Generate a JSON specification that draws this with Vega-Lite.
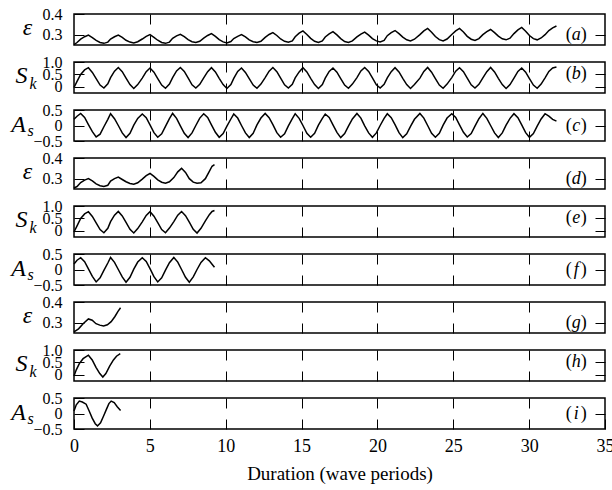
{
"$schema": "https://vega.github.io/schema/vega-lite/v6.json",
"padding": {"left": 9, "top": 5, "right": 0, "bottom": 0},
"background": "white",
"bounds": "flush",
"spacing": 17,
"config": {
  "font": "Liberation Serif",
  "style": {"guide-label": {"font": "Liberation Serif", "fill": "black"}, "guide-title": {"font": "Liberation Serif", "fill": "black"}},
  "view": {"stroke": "black", "strokeWidth": 1.5},
  "axis": {"domain": false, "grid": false, "tickColor": "black", "tickWidth": 1, "tickSize": -10, "labelFont": "Liberation Serif", "labelColor": "black", "labelOverlap": false, "titleFont": "Liberation Serif", "titleColor": "black", "titleFontWeight": "normal"},
  "axisX": {"labelFont": "Liberation Serif", "labelFontSize": 18, "labelPadding": 18, "labelFlush": false},
  "axisY": {"labelFont": "Liberation Serif", "labelFontSize": 16, "labelPadding": 22},
  "text": {"font": "Liberation Serif", "fontSize": 18, "color": "black", "baseline": "middle"}
},
"datasets": {
"a": [{"x":0,"v":0.252},{"x":0.2,"v":0.262},
{"x":0.44,"v":0.278},{"x":0.70,"v":0.290},{"x":0.95,"v":0.298},{"x":1.21,"v":0.286},{"x":1.46,"v":0.272},{"x":1.72,"v":0.262},{"x":1.97,"v":0.258},{"x":2.23,"v":0.264},
{"x":2.41,"v":0.279},{"x":2.67,"v":0.290},{"x":2.92,"v":0.298},{"x":3.18,"v":0.287},{"x":3.43,"v":0.273},{"x":3.69,"v":0.264},{"x":3.94,"v":0.260},{"x":4.20,"v":0.266},
{"x":4.50,"v":0.279},{"x":4.76,"v":0.292},{"x":5.01,"v":0.300},{"x":5.27,"v":0.287},{"x":5.52,"v":0.273},{"x":5.78,"v":0.262},{"x":6.03,"v":0.258},{"x":6.29,"v":0.264},
{"x":6.50,"v":0.282},{"x":6.76,"v":0.294},{"x":7.01,"v":0.302},{"x":7.27,"v":0.290},{"x":7.52,"v":0.276},{"x":7.78,"v":0.266},{"x":8.03,"v":0.262},{"x":8.29,"v":0.268},
{"x":8.55,"v":0.283},{"x":8.81,"v":0.296},{"x":9.06,"v":0.305},{"x":9.32,"v":0.292},{"x":9.57,"v":0.276},{"x":9.83,"v":0.265},{"x":10.08,"v":0.260},{"x":10.34,"v":0.267},
{"x":10.53,"v":0.281},{"x":10.79,"v":0.292},{"x":11.04,"v":0.300},{"x":11.30,"v":0.289},{"x":11.55,"v":0.275},{"x":11.81,"v":0.266},{"x":12.06,"v":0.262},{"x":12.32,"v":0.268},
{"x":12.60,"v":0.287},{"x":12.86,"v":0.301},{"x":13.11,"v":0.310},{"x":13.37,"v":0.296},{"x":13.62,"v":0.279},{"x":13.88,"v":0.268},{"x":14.13,"v":0.263},{"x":14.39,"v":0.270},
{"x":14.58,"v":0.290},{"x":14.84,"v":0.307},{"x":15.09,"v":0.318},{"x":15.35,"v":0.301},{"x":15.60,"v":0.282},{"x":15.86,"v":0.268},{"x":16.11,"v":0.262},{"x":16.37,"v":0.270},
{"x":16.56,"v":0.289},{"x":16.82,"v":0.304},{"x":17.07,"v":0.315},{"x":17.33,"v":0.299},{"x":17.58,"v":0.281},{"x":17.84,"v":0.267},{"x":18.09,"v":0.262},{"x":18.35,"v":0.270},
{"x":18.65,"v":0.289},{"x":18.91,"v":0.303},{"x":19.16,"v":0.312},{"x":19.42,"v":0.298},{"x":19.67,"v":0.281},{"x":19.93,"v":0.270},{"x":20.18,"v":0.265},{"x":20.44,"v":0.272},
{"x":20.65,"v":0.295},{"x":20.91,"v":0.310},{"x":21.16,"v":0.320},{"x":21.42,"v":0.305},{"x":21.67,"v":0.288},{"x":21.93,"v":0.275},{"x":22.18,"v":0.270},{"x":22.44,"v":0.278},
{"x":22.80,"v":0.300},{"x":23.06,"v":0.318},{"x":23.31,"v":0.330},{"x":23.57,"v":0.312},{"x":23.82,"v":0.291},{"x":24.08,"v":0.276},{"x":24.33,"v":0.270},{"x":24.59,"v":0.279},
{"x":24.90,"v":0.301},{"x":25.16,"v":0.318},{"x":25.41,"v":0.330},{"x":25.67,"v":0.313},{"x":25.92,"v":0.292},{"x":26.18,"v":0.278},{"x":26.43,"v":0.272},{"x":26.69,"v":0.281},
{"x":26.95,"v":0.300},{"x":27.21,"v":0.315},{"x":27.46,"v":0.325},{"x":27.72,"v":0.310},{"x":27.97,"v":0.293},{"x":28.23,"v":0.280},{"x":28.48,"v":0.275},{"x":28.74,"v":0.283},
{"x":29.00,"v":0.305},{"x":29.26,"v":0.323},{"x":29.51,"v":0.335},{"x":29.77,"v":0.317},{"x":30.02,"v":0.296},{"x":30.28,"v":0.281},{"x":30.53,"v":0.275},{"x":30.79,"v":0.284},
{"x":31.05,"v":0.300},{"x":31.30,"v":0.320},{"x":31.55,"v":0.333},{"x":31.80,"v":0.342}],
"b": [{"x":0,"v":-0.03},{"x":0.2,"v":0.22},
{"x":0.44,"v":0.50},{"x":0.70,"v":0.68},{"x":0.95,"v":0.77},{"x":1.21,"v":0.58},{"x":1.46,"v":0.33},{"x":1.72,"v":0.07},{"x":1.97,"v":-0.05},{"x":2.23,"v":0.12},
{"x":2.41,"v":0.37},{"x":2.67,"v":0.63},{"x":2.92,"v":0.78},{"x":3.18,"v":0.61},{"x":3.43,"v":0.35},{"x":3.69,"v":0.09},{"x":3.94,"v":-0.07},{"x":4.20,"v":0.09},
{"x":4.50,"v":0.35},{"x":4.76,"v":0.61},{"x":5.01,"v":0.76},{"x":5.27,"v":0.59},{"x":5.52,"v":0.33},{"x":5.78,"v":0.07},{"x":6.03,"v":-0.06},{"x":6.29,"v":0.11},
{"x":6.50,"v":0.37},{"x":6.76,"v":0.64},{"x":7.01,"v":0.78},{"x":7.27,"v":0.62},{"x":7.52,"v":0.36},{"x":7.78,"v":0.08},{"x":8.03,"v":-0.05},{"x":8.29,"v":0.10},
{"x":8.55,"v":0.36},{"x":8.81,"v":0.61},{"x":9.06,"v":0.77},{"x":9.32,"v":0.60},{"x":9.57,"v":0.34},{"x":9.83,"v":0.09},{"x":10.08,"v":-0.07},{"x":10.34,"v":0.09},
{"x":10.53,"v":0.34},{"x":10.79,"v":0.62},{"x":11.04,"v":0.76},{"x":11.30,"v":0.58},{"x":11.55,"v":0.33},{"x":11.81,"v":0.07},{"x":12.06,"v":-0.06},{"x":12.32,"v":0.11},
{"x":12.60,"v":0.37},{"x":12.86,"v":0.63},{"x":13.11,"v":0.78},{"x":13.37,"v":0.61},{"x":13.62,"v":0.35},{"x":13.88,"v":0.08},{"x":14.13,"v":-0.05},{"x":14.39,"v":0.10},
{"x":14.58,"v":0.36},{"x":14.84,"v":0.60},{"x":15.09,"v":0.77},{"x":15.35,"v":0.60},{"x":15.60,"v":0.34},{"x":15.86,"v":0.09},{"x":16.11,"v":-0.07},{"x":16.37,"v":0.09},
{"x":16.56,"v":0.35},{"x":16.82,"v":0.62},{"x":17.07,"v":0.76},{"x":17.33,"v":0.59},{"x":17.58,"v":0.33},{"x":17.84,"v":0.07},{"x":18.09,"v":-0.06},{"x":18.35,"v":0.11},
{"x":18.65,"v":0.37},{"x":18.91,"v":0.64},{"x":19.16,"v":0.78},{"x":19.42,"v":0.62},{"x":19.67,"v":0.36},{"x":19.93,"v":0.08},{"x":20.18,"v":-0.05},{"x":20.44,"v":0.10},
{"x":20.65,"v":0.36},{"x":20.91,"v":0.61},{"x":21.16,"v":0.77},{"x":21.42,"v":0.60},{"x":21.67,"v":0.34},{"x":21.93,"v":0.09},{"x":22.18,"v":-0.07},{"x":22.44,"v":0.09},
{"x":22.80,"v":0.35},{"x":23.06,"v":0.62},{"x":23.31,"v":0.78},{"x":23.57,"v":0.59},{"x":23.82,"v":0.33},{"x":24.08,"v":0.07},{"x":24.33,"v":-0.06},{"x":24.59,"v":0.11},
{"x":24.90,"v":0.37},{"x":25.16,"v":0.63},{"x":25.41,"v":0.77},{"x":25.67,"v":0.61},{"x":25.92,"v":0.35},{"x":26.18,"v":0.08},{"x":26.43,"v":-0.05},{"x":26.69,"v":0.10},
{"x":26.95,"v":0.36},{"x":27.21,"v":0.61},{"x":27.46,"v":0.78},{"x":27.72,"v":0.60},{"x":27.97,"v":0.34},{"x":28.23,"v":0.09},{"x":28.48,"v":-0.07},{"x":28.74,"v":0.09},
{"x":29.00,"v":0.35},{"x":29.26,"v":0.62},{"x":29.51,"v":0.76},{"x":29.77,"v":0.59},{"x":30.02,"v":0.33},{"x":30.28,"v":0.07},{"x":30.53,"v":-0.06},{"x":30.79,"v":0.11},
{"x":31.05,"v":0.36},{"x":31.30,"v":0.62},{"x":31.55,"v":0.76},{"x":31.80,"v":0.80}],
"c": [{"x":0,"v":0.20},{"x":0.2,"v":0.30},
{"x":0.44,"v":0.39},{"x":0.70,"v":0.26},{"x":0.95,"v":0.03},{"x":1.21,"v":-0.20},{"x":1.46,"v":-0.37},{"x":1.72,"v":-0.28},{"x":1.97,"v":-0.04},{"x":2.23,"v":0.20},
{"x":2.41,"v":0.38},{"x":2.67,"v":0.22},{"x":2.92,"v":0.00},{"x":3.18,"v":-0.24},{"x":3.43,"v":-0.39},{"x":3.69,"v":-0.25},{"x":3.94,"v":0.01},{"x":4.20,"v":0.23},
{"x":4.50,"v":0.37},{"x":4.76,"v":0.25},{"x":5.01,"v":0.02},{"x":5.27,"v":-0.23},{"x":5.52,"v":-0.38},{"x":5.78,"v":-0.27},{"x":6.03,"v":-0.03},{"x":6.29,"v":0.22},
{"x":6.50,"v":0.39},{"x":6.76,"v":0.23},{"x":7.01,"v":-0.01},{"x":7.27,"v":-0.25},{"x":7.52,"v":-0.39},{"x":7.78,"v":-0.24},{"x":8.03,"v":0.00},{"x":8.29,"v":0.24},
{"x":8.55,"v":0.38},{"x":8.81,"v":0.26},{"x":9.06,"v":0.02},{"x":9.32,"v":-0.22},{"x":9.57,"v":-0.38},{"x":9.83,"v":-0.26},{"x":10.08,"v":-0.02},{"x":10.34,"v":0.21},
{"x":10.53,"v":0.37},{"x":10.79,"v":0.24},{"x":11.04,"v":0.00},{"x":11.30,"v":-0.24},{"x":11.55,"v":-0.39},{"x":11.81,"v":-0.25},{"x":12.06,"v":0.02},{"x":12.32,"v":0.24},
{"x":12.60,"v":0.39},{"x":12.86,"v":0.25},{"x":13.11,"v":0.03},{"x":13.37,"v":-0.23},{"x":13.62,"v":-0.38},{"x":13.88,"v":-0.27},{"x":14.13,"v":-0.01},{"x":14.39,"v":0.22},
{"x":14.58,"v":0.38},{"x":14.84,"v":0.23},{"x":15.09,"v":0.00},{"x":15.35,"v":-0.25},{"x":15.60,"v":-0.38},{"x":15.86,"v":-0.25},{"x":16.11,"v":0.01},{"x":16.37,"v":0.23},
{"x":16.56,"v":0.37},{"x":16.82,"v":0.26},{"x":17.07,"v":0.02},{"x":17.33,"v":-0.22},{"x":17.58,"v":-0.39},{"x":17.84,"v":-0.26},{"x":18.09,"v":-0.02},{"x":18.35,"v":0.21},
{"x":18.65,"v":0.39},{"x":18.91,"v":0.24},{"x":19.16,"v":-0.01},{"x":19.42,"v":-0.24},{"x":19.67,"v":-0.38},{"x":19.93,"v":-0.24},{"x":20.18,"v":0.00},{"x":20.44,"v":0.23},
{"x":20.65,"v":0.38},{"x":20.91,"v":0.25},{"x":21.16,"v":0.03},{"x":21.42,"v":-0.23},{"x":21.67,"v":-0.39},{"x":21.93,"v":-0.27},{"x":22.18,"v":-0.03},{"x":22.44,"v":0.20},
{"x":22.80,"v":0.39},{"x":23.06,"v":0.24},{"x":23.31,"v":0.00},{"x":23.57,"v":-0.25},{"x":23.82,"v":-0.38},{"x":24.08,"v":-0.25},{"x":24.33,"v":0.01},{"x":24.59,"v":0.24},
{"x":24.90,"v":0.38},{"x":25.16,"v":0.26},{"x":25.41,"v":0.02},{"x":25.67,"v":-0.22},{"x":25.92,"v":-0.37},{"x":26.18,"v":-0.26},{"x":26.43,"v":-0.02},{"x":26.69,"v":0.22},
{"x":26.95,"v":0.39},{"x":27.21,"v":0.23},{"x":27.46,"v":0.00},{"x":27.72,"v":-0.24},{"x":27.97,"v":-0.39},{"x":28.23,"v":-0.24},{"x":28.48,"v":0.01},{"x":28.74,"v":0.23},
{"x":29.00,"v":0.38},{"x":29.26,"v":0.25},{"x":29.51,"v":0.02},{"x":29.77,"v":-0.23},{"x":30.02,"v":-0.38},{"x":30.28,"v":-0.26},{"x":30.53,"v":-0.02},{"x":30.79,"v":0.21},
{"x":31.05,"v":0.38},{"x":31.30,"v":0.30},{"x":31.55,"v":0.20},{"x":31.80,"v":0.14}],
"d": [{"x":0,"v":0.255},{"x":0.2,"v":0.262},
{"x":0.44,"v":0.281},{"x":0.70,"v":0.293},{"x":0.95,"v":0.300},{"x":1.21,"v":0.289},{"x":1.46,"v":0.275},{"x":1.72,"v":0.266},{"x":1.97,"v":0.262},{"x":2.23,"v":0.268},
{"x":2.41,"v":0.288},{"x":2.67,"v":0.300},{"x":2.92,"v":0.308},{"x":3.18,"v":0.296},{"x":3.43,"v":0.285},{"x":3.69,"v":0.277},{"x":3.94,"v":0.273},{"x":4.20,"v":0.280},
{"x":4.50,"v":0.298},{"x":4.76,"v":0.315},{"x":5.01,"v":0.325},{"x":5.27,"v":0.311},{"x":5.52,"v":0.294},{"x":5.78,"v":0.283},{"x":6.03,"v":0.278},{"x":6.29,"v":0.285},
{"x":6.58,"v":0.305},{"x":6.84,"v":0.333},{"x":7.09,"v":0.350},{"x":7.35,"v":0.330},{"x":7.60,"v":0.300},{"x":7.86,"v":0.283},{"x":8.11,"v":0.278},{"x":8.37,"v":0.280},
{"x":8.66,"v":0.300},{"x":8.92,"v":0.335},{"x":9.10,"v":0.360},{"x":9.26,"v":0.368}],
"e": [{"x":0,"v":-0.05},{"x":0.2,"v":0.20},
{"x":0.44,"v":0.50},{"x":0.70,"v":0.68},{"x":0.95,"v":0.77},{"x":1.21,"v":0.58},{"x":1.46,"v":0.32},{"x":1.72,"v":0.05},{"x":1.97,"v":-0.08},{"x":2.23,"v":0.10},
{"x":2.41,"v":0.37},{"x":2.67,"v":0.63},{"x":2.92,"v":0.78},{"x":3.18,"v":0.60},{"x":3.43,"v":0.34},{"x":3.69,"v":0.06},{"x":3.94,"v":-0.09},{"x":4.20,"v":0.09},
{"x":4.50,"v":0.36},{"x":4.76,"v":0.62},{"x":5.01,"v":0.77},{"x":5.27,"v":0.59},{"x":5.52,"v":0.33},{"x":5.78,"v":0.05},{"x":6.03,"v":-0.08},{"x":6.29,"v":0.11},
{"x":6.58,"v":0.37},{"x":6.84,"v":0.63},{"x":7.09,"v":0.78},{"x":7.35,"v":0.61},{"x":7.60,"v":0.35},{"x":7.86,"v":0.06},{"x":8.11,"v":-0.09},{"x":8.37,"v":0.10},
{"x":8.66,"v":0.40},{"x":8.92,"v":0.65},{"x":9.10,"v":0.78},{"x":9.26,"v":0.82}],
"f": [{"x":0,"v":0.18},{"x":0.2,"v":0.30},
{"x":0.44,"v":0.38},{"x":0.70,"v":0.25},{"x":0.95,"v":0.02},{"x":1.21,"v":-0.22},{"x":1.46,"v":-0.40},{"x":1.72,"v":-0.27},{"x":1.97,"v":-0.03},{"x":2.23,"v":0.21},
{"x":2.41,"v":0.39},{"x":2.67,"v":0.23},{"x":2.92,"v":0.00},{"x":3.18,"v":-0.24},{"x":3.43,"v":-0.41},{"x":3.69,"v":-0.25},{"x":3.94,"v":0.01},{"x":4.20,"v":0.24},
{"x":4.50,"v":0.38},{"x":4.76,"v":0.26},{"x":5.01,"v":0.03},{"x":5.27,"v":-0.23},{"x":5.52,"v":-0.40},{"x":5.78,"v":-0.27},{"x":6.03,"v":-0.02},{"x":6.29,"v":0.22},
{"x":6.58,"v":0.39},{"x":6.84,"v":0.24},{"x":7.09,"v":0.00},{"x":7.35,"v":-0.25},{"x":7.60,"v":-0.41},{"x":7.86,"v":-0.24},{"x":8.11,"v":0.00},{"x":8.37,"v":0.23},
{"x":8.66,"v":0.38},{"x":8.92,"v":0.28},{"x":9.10,"v":0.17},{"x":9.26,"v":0.07}],
"g": [{"x":0,"v":0.255},{"x":0.3,"v":0.270},{"x":0.6,"v":0.295},{"x":0.95,"v":0.318},{"x":1.2,"v":0.312},{"x":1.45,"v":0.295},{"x":1.7,"v":0.288},{"x":1.95,"v":0.284},{"x":2.2,"v":0.290},{"x":2.45,"v":0.305},{"x":2.7,"v":0.330},{"x":2.9,"v":0.355},{"x":3.07,"v":0.372}],
"h": [{"x":0,"v":-0.05},{"x":0.15,"v":0.20},{"x":0.35,"v":0.45},{"x":0.6,"v":0.65},{"x":0.95,"v":0.79},{"x":1.2,"v":0.60},{"x":1.45,"v":0.30},{"x":1.7,"v":0.05},{"x":1.9,"v":-0.09},{"x":2.1,"v":0.05},{"x":2.35,"v":0.35},{"x":2.6,"v":0.60},{"x":2.8,"v":0.75},{"x":3.05,"v":0.85}],
"i": [{"x":0,"v":0.08},{"x":0.15,"v":0.28},{"x":0.35,"v":0.40},{"x":0.55,"v":0.37},{"x":0.8,"v":0.30},{"x":1.0,"v":0.08},{"x":1.2,"v":-0.15},{"x":1.4,"v":-0.33},{"x":1.55,"v":-0.40},{"x":1.75,"v":-0.30},{"x":1.95,"v":-0.08},{"x":2.15,"v":0.15},{"x":2.3,"v":0.32},{"x":2.45,"v":0.40},{"x":2.65,"v":0.35},{"x":2.85,"v":0.22},{"x":3.07,"v":0.10}],
"one": [{"k": 1}]
},
"vconcat": [
{"width": 531, "height": 31, "resolve": {"axis": {"x": "independent", "y": "independent"}}, "layer": [
 {"data": {"name": "a"}, "mark": {"type": "line", "color": "black", "strokeWidth": 1.5},
  "encoding": {"x": {"field": "x", "type": "quantitative", "scale": {"domain": [0, 35], "nice": false, "zero": false}, "axis": {"orient": "bottom", "values": [5,10,15,20,25,30], "labels": false, "title": null}},
   "y": {"field": "v", "type": "quantitative", "scale": {"domain": [0.25, 0.4], "nice": false, "zero": false}, "axis": {"orient": "left", "values": [0.3, 0.4], "format": ".1f", "labelFont": "Liberation Serif", "title": "ε", "titleAngle": 0, "titleAlign": "center", "titleBaseline": "alphabetic", "titleX": -47, "titleY": 20, "titleFontSize": 24, "titleFontStyle": "italic"}}}},
 {"data": {"name": "one"}, "mark": {"type": "text", "text": "a", "fontStyle": "italic", "align": "center"},
  "encoding": {"x": {"datum": 33.1, "type": "quantitative", "axis": {"orient": "top", "values": [5,10,15,20,25,30], "labels": false, "title": null}}, "y": {"datum": 0.3, "type": "quantitative", "axis": {"orient": "right", "values": [0.3], "labels": false, "title": null}}}},
 {"data": {"name": "one"}, "mark": {"type": "text", "text": "(", "align": "right", "dx": -4.5},
  "encoding": {"x": {"datum": 33.1, "type": "quantitative", "axis": null}, "y": {"datum": 0.3, "type": "quantitative", "axis": null}}},
 {"data": {"name": "one"}, "mark": {"type": "text", "text": ")", "align": "left", "dx": 4.5},
  "encoding": {"x": {"datum": 33.1, "type": "quantitative", "axis": null}, "y": {"datum": 0.3, "type": "quantitative", "axis": null}}}
]},
{"width": 531, "height": 31, "resolve": {"axis": {"x": "independent", "y": "independent"}}, "layer": [
 {"data": {"name": "b"}, "mark": {"type": "line", "color": "black", "strokeWidth": 1.5},
  "encoding": {"x": {"field": "x", "type": "quantitative", "scale": {"domain": [0, 35], "nice": false, "zero": false}, "axis": {"orient": "bottom", "values": [5,10,15,20,25,30], "labels": false, "title": null}},
   "y": {"field": "v", "type": "quantitative", "scale": {"domain": [-0.25, 1], "nice": false, "zero": false}, "axis": {"orient": "left", "values": [0, 0.5, 1], "labelFont": "Liberation Serif", "labelExpr": "datum.value == 0 ? '0' : format(datum.value, '.1f')", "title": "S", "titleAngle": 0, "titleAlign": "center", "titleBaseline": "alphabetic", "titleX": -53, "titleY": 20.7, "titleFontSize": 24, "titleFontStyle": "italic"}}}},
 {"data": {"name": "one"}, "mark": {"type": "text", "text": "b", "fontStyle": "italic", "align": "center"},
  "encoding": {"x": {"datum": 33.1, "type": "quantitative", "axis": {"orient": "top", "values": [5,10,15,20,25,30], "labels": false, "title": null}}, "y": {"datum": 0.5, "type": "quantitative", "axis": {"orient": "right", "values": [0, 0.5], "labels": false, "title": null}}}},
 {"data": {"name": "one"}, "mark": {"type": "text", "text": "(", "align": "right", "dx": -4.5},
  "encoding": {"x": {"datum": 33.1, "type": "quantitative", "axis": null}, "y": {"datum": 0.5, "type": "quantitative", "axis": {"orient": "left", "ticks": false, "labels": false, "title": "k", "titleAngle": 0, "titleAlign": "center", "titleBaseline": "alphabetic", "titleX": -41.5, "titleY": 26, "titleFontSize": 16, "titleFontStyle": "italic"}}}},
 {"data": {"name": "one"}, "mark": {"type": "text", "text": ")", "align": "left", "dx": 4.5},
  "encoding": {"x": {"datum": 33.1, "type": "quantitative", "axis": null}, "y": {"datum": 0.5, "type": "quantitative", "axis": null}}}
]},
{"width": 531, "height": 31, "resolve": {"axis": {"x": "independent", "y": "independent"}}, "layer": [
 {"data": {"name": "c"}, "mark": {"type": "line", "color": "black", "strokeWidth": 1.5},
  "encoding": {"x": {"field": "x", "type": "quantitative", "scale": {"domain": [0, 35], "nice": false, "zero": false}, "axis": {"orient": "bottom", "values": [5,10,15,20,25,30], "labels": false, "title": null}},
   "y": {"field": "v", "type": "quantitative", "scale": {"domain": [-0.5, 0.5], "nice": false, "zero": false}, "axis": {"orient": "left", "values": [-0.5, 0, 0.5], "labelFont": "Liberation Serif", "labelExpr": "datum.value == 0 ? '0' : format(datum.value, '.1f')", "title": "A", "titleAngle": 0, "titleAlign": "center", "titleBaseline": "alphabetic", "titleX": -56, "titleY": 21.7, "titleFontSize": 24, "titleFontStyle": "italic"}}}},
 {"data": {"name": "one"}, "mark": {"type": "text", "text": "c", "fontStyle": "italic", "align": "center"},
  "encoding": {"x": {"datum": 33.1, "type": "quantitative", "axis": {"orient": "top", "values": [5,10,15,20,25,30], "labels": false, "title": null}}, "y": {"datum": 0, "type": "quantitative", "axis": {"orient": "right", "values": [0], "labels": false, "title": null}}}},
 {"data": {"name": "one"}, "mark": {"type": "text", "text": "(", "align": "right", "dx": -4.5},
  "encoding": {"x": {"datum": 33.1, "type": "quantitative", "axis": null}, "y": {"datum": 0, "type": "quantitative", "axis": {"orient": "left", "ticks": false, "labels": false, "title": "s", "titleAngle": 0, "titleAlign": "center", "titleBaseline": "alphabetic", "titleX": -44, "titleY": 25, "titleFontSize": 16, "titleFontStyle": "italic"}}}},
 {"data": {"name": "one"}, "mark": {"type": "text", "text": ")", "align": "left", "dx": 4.5},
  "encoding": {"x": {"datum": 33.1, "type": "quantitative", "axis": null}, "y": {"datum": 0, "type": "quantitative", "axis": null}}}
]},
{"width": 531, "height": 31, "resolve": {"axis": {"x": "independent", "y": "independent"}}, "layer": [
 {"data": {"name": "d"}, "mark": {"type": "line", "color": "black", "strokeWidth": 1.5},
  "encoding": {"x": {"field": "x", "type": "quantitative", "scale": {"domain": [0, 35], "nice": false, "zero": false}, "axis": {"orient": "bottom", "values": [5,10,15,20,25,30], "labels": false, "title": null}},
   "y": {"field": "v", "type": "quantitative", "scale": {"domain": [0.25, 0.4], "nice": false, "zero": false}, "axis": {"orient": "left", "values": [0.3, 0.4], "format": ".1f", "labelFont": "Liberation Serif", "title": "ε", "titleAngle": 0, "titleAlign": "center", "titleBaseline": "alphabetic", "titleX": -47, "titleY": 20, "titleFontSize": 24, "titleFontStyle": "italic"}}}},
 {"data": {"name": "one"}, "mark": {"type": "text", "text": "d", "fontStyle": "italic", "align": "center"},
  "encoding": {"x": {"datum": 33.1, "type": "quantitative", "axis": {"orient": "top", "values": [5,10,15,20,25,30], "labels": false, "title": null}}, "y": {"datum": 0.3, "type": "quantitative", "axis": {"orient": "right", "values": [0.3], "labels": false, "title": null}}}},
 {"data": {"name": "one"}, "mark": {"type": "text", "text": "(", "align": "right", "dx": -4.5},
  "encoding": {"x": {"datum": 33.1, "type": "quantitative", "axis": null}, "y": {"datum": 0.3, "type": "quantitative", "axis": null}}},
 {"data": {"name": "one"}, "mark": {"type": "text", "text": ")", "align": "left", "dx": 4.5},
  "encoding": {"x": {"datum": 33.1, "type": "quantitative", "axis": null}, "y": {"datum": 0.3, "type": "quantitative", "axis": null}}}
]},
{"width": 531, "height": 31, "resolve": {"axis": {"x": "independent", "y": "independent"}}, "layer": [
 {"data": {"name": "e"}, "mark": {"type": "line", "color": "black", "strokeWidth": 1.5},
  "encoding": {"x": {"field": "x", "type": "quantitative", "scale": {"domain": [0, 35], "nice": false, "zero": false}, "axis": {"orient": "bottom", "values": [5,10,15,20,25,30], "labels": false, "title": null}},
   "y": {"field": "v", "type": "quantitative", "scale": {"domain": [-0.25, 1], "nice": false, "zero": false}, "axis": {"orient": "left", "values": [0, 0.5, 1], "labelFont": "Liberation Serif", "labelExpr": "datum.value == 0 ? '0' : format(datum.value, '.1f')", "title": "S", "titleAngle": 0, "titleAlign": "center", "titleBaseline": "alphabetic", "titleX": -53, "titleY": 20.7, "titleFontSize": 24, "titleFontStyle": "italic"}}}},
 {"data": {"name": "one"}, "mark": {"type": "text", "text": "e", "fontStyle": "italic", "align": "center"},
  "encoding": {"x": {"datum": 33.1, "type": "quantitative", "axis": {"orient": "top", "values": [5,10,15,20,25,30], "labels": false, "title": null}}, "y": {"datum": 0.5, "type": "quantitative", "axis": {"orient": "right", "values": [0, 0.5], "labels": false, "title": null}}}},
 {"data": {"name": "one"}, "mark": {"type": "text", "text": "(", "align": "right", "dx": -4.5},
  "encoding": {"x": {"datum": 33.1, "type": "quantitative", "axis": null}, "y": {"datum": 0.5, "type": "quantitative", "axis": {"orient": "left", "ticks": false, "labels": false, "title": "k", "titleAngle": 0, "titleAlign": "center", "titleBaseline": "alphabetic", "titleX": -41.5, "titleY": 26, "titleFontSize": 16, "titleFontStyle": "italic"}}}},
 {"data": {"name": "one"}, "mark": {"type": "text", "text": ")", "align": "left", "dx": 4.5},
  "encoding": {"x": {"datum": 33.1, "type": "quantitative", "axis": null}, "y": {"datum": 0.5, "type": "quantitative", "axis": null}}}
]},
{"width": 531, "height": 31, "resolve": {"axis": {"x": "independent", "y": "independent"}}, "layer": [
 {"data": {"name": "f"}, "mark": {"type": "line", "color": "black", "strokeWidth": 1.5},
  "encoding": {"x": {"field": "x", "type": "quantitative", "scale": {"domain": [0, 35], "nice": false, "zero": false}, "axis": {"orient": "bottom", "values": [5,10,15,20,25,30], "labels": false, "title": null}},
   "y": {"field": "v", "type": "quantitative", "scale": {"domain": [-0.5, 0.5], "nice": false, "zero": false}, "axis": {"orient": "left", "values": [-0.5, 0, 0.5], "labelFont": "Liberation Serif", "labelExpr": "datum.value == 0 ? '0' : format(datum.value, '.1f')", "title": "A", "titleAngle": 0, "titleAlign": "center", "titleBaseline": "alphabetic", "titleX": -56, "titleY": 21.7, "titleFontSize": 24, "titleFontStyle": "italic"}}}},
 {"data": {"name": "one"}, "mark": {"type": "text", "text": "f", "fontStyle": "italic", "align": "center"},
  "encoding": {"x": {"datum": 33.1, "type": "quantitative", "axis": {"orient": "top", "values": [5,10,15,20,25,30], "labels": false, "title": null}}, "y": {"datum": 0, "type": "quantitative", "axis": {"orient": "right", "values": [0], "labels": false, "title": null}}}},
 {"data": {"name": "one"}, "mark": {"type": "text", "text": "(", "align": "right", "dx": -4.5},
  "encoding": {"x": {"datum": 33.1, "type": "quantitative", "axis": null}, "y": {"datum": 0, "type": "quantitative", "axis": {"orient": "left", "ticks": false, "labels": false, "title": "s", "titleAngle": 0, "titleAlign": "center", "titleBaseline": "alphabetic", "titleX": -44, "titleY": 25, "titleFontSize": 16, "titleFontStyle": "italic"}}}},
 {"data": {"name": "one"}, "mark": {"type": "text", "text": ")", "align": "left", "dx": 4.5},
  "encoding": {"x": {"datum": 33.1, "type": "quantitative", "axis": null}, "y": {"datum": 0, "type": "quantitative", "axis": null}}}
]},
{"width": 531, "height": 31, "resolve": {"axis": {"x": "independent", "y": "independent"}}, "layer": [
 {"data": {"name": "g"}, "mark": {"type": "line", "color": "black", "strokeWidth": 1.5},
  "encoding": {"x": {"field": "x", "type": "quantitative", "scale": {"domain": [0, 35], "nice": false, "zero": false}, "axis": {"orient": "bottom", "values": [5,10,15,20,25,30], "labels": false, "title": null}},
   "y": {"field": "v", "type": "quantitative", "scale": {"domain": [0.25, 0.4], "nice": false, "zero": false}, "axis": {"orient": "left", "values": [0.3, 0.4], "format": ".1f", "labelFont": "Liberation Serif", "title": "ε", "titleAngle": 0, "titleAlign": "center", "titleBaseline": "alphabetic", "titleX": -47, "titleY": 20, "titleFontSize": 24, "titleFontStyle": "italic"}}}},
 {"data": {"name": "one"}, "mark": {"type": "text", "text": "g", "fontStyle": "italic", "align": "center"},
  "encoding": {"x": {"datum": 33.1, "type": "quantitative", "axis": {"orient": "top", "values": [5,10,15,20,25,30], "labels": false, "title": null}}, "y": {"datum": 0.3, "type": "quantitative", "axis": {"orient": "right", "values": [0.3], "labels": false, "title": null}}}},
 {"data": {"name": "one"}, "mark": {"type": "text", "text": "(", "align": "right", "dx": -4.5},
  "encoding": {"x": {"datum": 33.1, "type": "quantitative", "axis": null}, "y": {"datum": 0.3, "type": "quantitative", "axis": null}}},
 {"data": {"name": "one"}, "mark": {"type": "text", "text": ")", "align": "left", "dx": 4.5},
  "encoding": {"x": {"datum": 33.1, "type": "quantitative", "axis": null}, "y": {"datum": 0.3, "type": "quantitative", "axis": null}}}
]},
{"width": 531, "height": 31, "resolve": {"axis": {"x": "independent", "y": "independent"}}, "layer": [
 {"data": {"name": "h"}, "mark": {"type": "line", "color": "black", "strokeWidth": 1.5},
  "encoding": {"x": {"field": "x", "type": "quantitative", "scale": {"domain": [0, 35], "nice": false, "zero": false}, "axis": {"orient": "bottom", "values": [5,10,15,20,25,30], "labels": false, "title": null}},
   "y": {"field": "v", "type": "quantitative", "scale": {"domain": [-0.25, 1], "nice": false, "zero": false}, "axis": {"orient": "left", "values": [0, 0.5, 1], "labelFont": "Liberation Serif", "labelExpr": "datum.value == 0 ? '0' : format(datum.value, '.1f')", "title": "S", "titleAngle": 0, "titleAlign": "center", "titleBaseline": "alphabetic", "titleX": -53, "titleY": 20.7, "titleFontSize": 24, "titleFontStyle": "italic"}}}},
 {"data": {"name": "one"}, "mark": {"type": "text", "text": "h", "fontStyle": "italic", "align": "center"},
  "encoding": {"x": {"datum": 33.1, "type": "quantitative", "axis": {"orient": "top", "values": [5,10,15,20,25,30], "labels": false, "title": null}}, "y": {"datum": 0.5, "type": "quantitative", "axis": {"orient": "right", "values": [0, 0.5], "labels": false, "title": null}}}},
 {"data": {"name": "one"}, "mark": {"type": "text", "text": "(", "align": "right", "dx": -4.5},
  "encoding": {"x": {"datum": 33.1, "type": "quantitative", "axis": null}, "y": {"datum": 0.5, "type": "quantitative", "axis": {"orient": "left", "ticks": false, "labels": false, "title": "k", "titleAngle": 0, "titleAlign": "center", "titleBaseline": "alphabetic", "titleX": -41.5, "titleY": 26, "titleFontSize": 16, "titleFontStyle": "italic"}}}},
 {"data": {"name": "one"}, "mark": {"type": "text", "text": ")", "align": "left", "dx": 4.5},
  "encoding": {"x": {"datum": 33.1, "type": "quantitative", "axis": null}, "y": {"datum": 0.5, "type": "quantitative", "axis": null}}}
]},
{"width": 531, "height": 31, "resolve": {"axis": {"x": "independent", "y": "independent"}}, "layer": [
 {"data": {"name": "i"}, "mark": {"type": "line", "color": "black", "strokeWidth": 1.5},
  "encoding": {"x": {"field": "x", "type": "quantitative", "scale": {"domain": [0, 35], "nice": false, "zero": false}, "axis": {"orient": "bottom", "values": [0,5,10,15,20,25,30,35], "labelFont": "Liberation Serif", "title": "Duration (wave periods)", "titleFontSize": 19, "titlePadding": 9}},
   "y": {"field": "v", "type": "quantitative", "scale": {"domain": [-0.5, 0.5], "nice": false, "zero": false}, "axis": {"orient": "left", "values": [-0.5, 0, 0.5], "labelFont": "Liberation Serif", "labelExpr": "datum.value == 0 ? '0' : format(datum.value, '.1f')", "title": "A", "titleAngle": 0, "titleAlign": "center", "titleBaseline": "alphabetic", "titleX": -56, "titleY": 21.7, "titleFontSize": 24, "titleFontStyle": "italic"}}}},
 {"data": {"name": "one"}, "mark": {"type": "text", "text": "i", "fontStyle": "italic", "align": "center"},
  "encoding": {"x": {"datum": 33.1, "type": "quantitative", "axis": {"orient": "top", "values": [5,10,15,20,25,30], "labels": false, "title": null}}, "y": {"datum": 0, "type": "quantitative", "axis": {"orient": "right", "values": [0], "labels": false, "title": null}}}},
 {"data": {"name": "one"}, "mark": {"type": "text", "text": "(", "align": "right", "dx": -4.5},
  "encoding": {"x": {"datum": 33.1, "type": "quantitative", "axis": null}, "y": {"datum": 0, "type": "quantitative", "axis": {"orient": "left", "ticks": false, "labels": false, "title": "s", "titleAngle": 0, "titleAlign": "center", "titleBaseline": "alphabetic", "titleX": -44, "titleY": 25, "titleFontSize": 16, "titleFontStyle": "italic"}}}},
 {"data": {"name": "one"}, "mark": {"type": "text", "text": ")", "align": "left", "dx": 4.5},
  "encoding": {"x": {"datum": 33.1, "type": "quantitative", "axis": null}, "y": {"datum": 0, "type": "quantitative", "axis": null}}}
]}
]
}
